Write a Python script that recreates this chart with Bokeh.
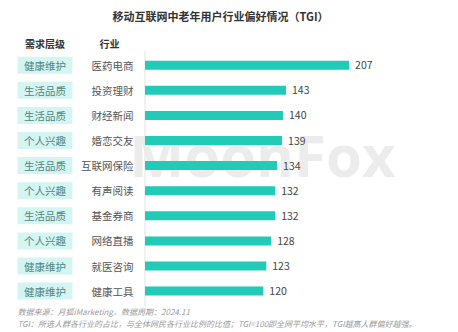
from bokeh.plotting import figure
from bokeh.models import Range1d, ColumnDataSource
from bokeh.core.properties import value
from bokeh.embed import file_html
from bokeh.resources import INLINE

title = "移动互联网中老年用户行业偏好情况（TGI）"
header_level = "需求层级"
header_industry = "行业"
levels = ["健康维护", "生活品质", "生活品质", "个人兴趣", "生活品质",
          "个人兴趣", "生活品质", "个人兴趣", "健康维护", "健康维护"]
industries = ["医药电商", "投资理财", "财经新闻", "婚恋交友", "互联网保险",
              "有声阅读", "基金券商", "网络直播", "就医咨询", "健康工具"]
tgi = [207, 143, 140, 139, 134, 132, 132, 128, 123, 120]
notes = ["数据来源：月狐iMarketing，数据周期：2024.11",
         "TGI：所选人群各行业的占比，与全体网民各行业比例的比值；TGI=100即全网平均水平，TGI越高人群偏好越强。"]

W, H = 458, 332
FONT = value("Noto Sans CJK SC")

# layout: pixel geometry of the frame
x0_px, ppu = 144.5, 0.986       # zero line, px per TGI unit
y0_px, step = 64.7, 25.1        # first row centre, row pitch

def xd(px):
    return (px - x0_px) / ppu

def yd(py):
    return (py - y0_px) / step

p = figure(width=W, height=H, output_backend="svg", toolbar_location=None,
           x_range=Range1d(xd(0), xd(W)), y_range=Range1d(yd(H), yd(0)),
           min_border=0, outline_line_color=None)
p.xaxis.visible = False
p.yaxis.visible = False
p.grid.visible = False
p.background_fill_color = "white"
p.border_fill_color = "white"

n = len(tgi)
rows = list(range(n))
src = ColumnDataSource(dict(y=rows, v=tgi, lev=levels, ind=industries,
                            lab=[str(v) for v in tgi]))

# watermark
p.text(x=[xd(262)], y=[yd(154)], text=["MoonFox"], text_font=value("Open Sans"),
       text_font_size="58px", text_font_style="bold", text_color="#cfcfcf",
       text_alpha=0.4, text_align="center", text_baseline="middle")

# zero line
p.segment(x0=[0], y0=[yd(50)], x1=[0], y1=[yd(306)], line_color="#e3e3e3", line_width=1)

# bars
p.hbar(y="y", right="v", left=0, height=9 / step, source=src,
       fill_color="#22cbb8", line_color=None)

# value labels
p.text(x="v", y="y", text="lab", source=src, x_offset=6, text_font=FONT,
       text_font_size="10.5px", text_color="#444444", text_align="left",
       text_baseline="middle")

# level pills
p.rect(x=[xd(44.5)] * n, y=rows, width=55, height=17, width_units="screen",
       height_units="screen", fill_color="#d5f5f2", line_color=None)
p.text(x=[xd(44.5)] * n, y=rows, text=levels, text_font=FONT,
       text_font_size="10.5px", text_color="#4f8583", text_align="center",
       text_baseline="middle")

# industry labels
p.text(x=[xd(133)] * n, y=rows, text=industries, text_font=FONT,
       text_font_size="10.5px", text_color="#555555", text_align="right",
       text_baseline="middle")

# headers
p.text(x=[xd(44.5), xd(109)], y=[yd(43), yd(43)], text=[header_level, header_industry],
       text_font=FONT, text_font_size="10px", text_font_style="bold",
       text_color="#333333", text_align="center", text_baseline="middle")

# title
p.text(x=[xd(220)], y=[yd(15)], text=[title], text_font=FONT,
       text_font_size="11px", text_font_style="bold", text_color="#333333",
       text_align="center", text_baseline="middle")

# footnotes
p.text(x=[xd(17), xd(17)], y=[yd(311), yd(323)], text=notes, text_font=FONT,
       text_font_size="8px", text_font_style="italic", text_color="#9a9a9a",
       text_align="left", text_baseline="middle")

open("out.html", "w").write(file_html(p, INLINE))
